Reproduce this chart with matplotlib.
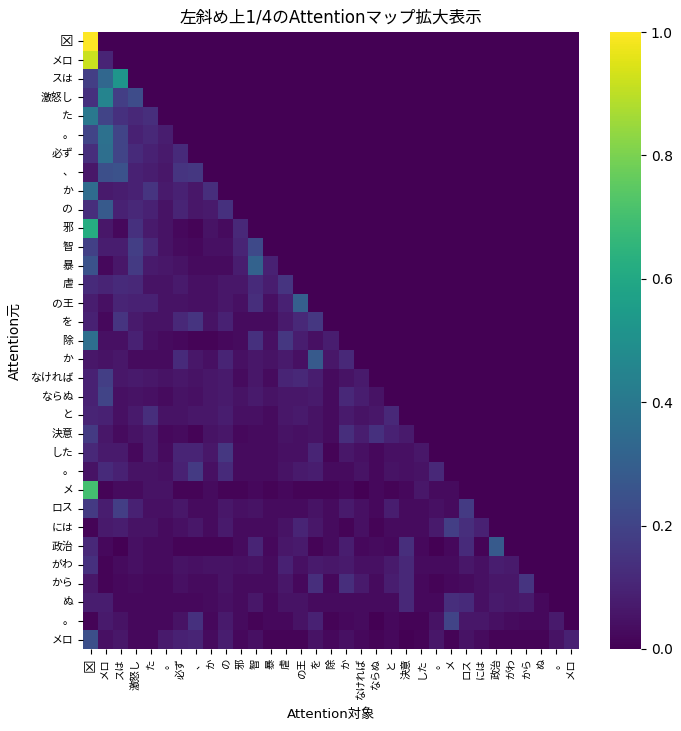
import numpy as np
import matplotlib
matplotlib.use("Agg")
import matplotlib.pyplot as plt
import seaborn as sns

plt.rcParams['font.family'] = ['DejaVu Sans', 'Noto Sans CJK JP']

tokens = ["☒", "メロ", "スは", "激怒し", "た", "。", "必ず", "、", "か", "の", "邪", "智", "暴", "虐",
          "の王", "を", "除", "か", "なければ", "ならぬ", "と", "決意", "した", "。", "メ", "ロス",
          "には", "政治", "がわ", "から", "ぬ", "。", "メロ"]

# attention weights in hundredths, lower triangle, one list per source token
attention_rows = [
    [100],
    [92, 10],
    [18, 33, 52],
    [14, 45, 18, 23],
    [40, 20, 14, 11, 13],
    [20, 37, 20, 9, 11, 8],
    [13, 36, 20, 12, 9, 7, 12],
    [6, 24, 25, 9, 8, 6, 15, 16],
    [35, 7, 8, 9, 15, 7, 9, 6, 13],
    [13, 28, 9, 11, 9, 5, 10, 6, 7, 14],
    [62, 6, 2, 14, 7, 5, 2, 1, 5, 3, 11],
    [19, 8, 8, 18, 11, 5, 3, 2, 4, 4, 10, 22],
    [25, 2, 6, 17, 7, 6, 5, 3, 3, 3, 8, 31, 9],
    [12, 10, 12, 11, 5, 5, 7, 4, 4, 6, 6, 12, 8, 15],
    [8, 4, 10, 9, 9, 5, 5, 4, 4, 6, 4, 13, 4, 9, 30],
    [9, 2, 15, 7, 5, 5, 11, 15, 5, 9, 3, 3, 3, 7, 11, 16],
    [36, 4, 4, 9, 4, 3, 2, 1, 1, 2, 3, 14, 4, 16, 8, 4, 8],
    [6, 5, 6, 3, 3, 3, 12, 6, 4, 10, 4, 6, 5, 7, 4, 28, 6, 11],
    [9, 18, 6, 7, 6, 5, 6, 5, 6, 7, 3, 6, 3, 10, 11, 8, 3, 5, 7],
    [9, 20, 4, 5, 4, 3, 5, 4, 6, 7, 5, 7, 5, 6, 6, 7, 3, 11, 8, 5],
    [10, 9, 4, 7, 13, 5, 5, 6, 6, 8, 4, 4, 3, 6, 7, 5, 3, 7, 5, 6, 11],
    [17, 6, 3, 5, 7, 2, 3, 1, 5, 6, 2, 3, 3, 5, 4, 5, 3, 13, 8, 14, 9, 7],
    [11, 7, 7, 2, 7, 3, 10, 10, 6, 16, 3, 3, 3, 4, 4, 10, 1, 6, 4, 2, 4, 4, 6],
    [5, 12, 9, 5, 5, 4, 9, 17, 4, 12, 3, 3, 3, 5, 7, 8, 3, 3, 5, 2, 5, 4, 5, 11],
    [70, 1, 3, 3, 5, 5, 1, 1, 3, 1, 1, 2, 1, 2, 1, 1, 1, 2, 0, 2, 1, 2, 6, 3, 3],
    [17, 8, 18, 9, 4, 4, 6, 3, 3, 6, 4, 5, 3, 3, 3, 5, 3, 7, 4, 2, 8, 3, 3, 4, 3, 17],
    [1, 7, 8, 5, 5, 3, 4, 6, 3, 7, 3, 3, 3, 5, 10, 6, 3, 1, 4, 1, 3, 3, 3, 7, 18, 13, 9],
    [11, 2, 0, 4, 3, 3, 1, 1, 1, 1, 3, 10, 2, 6, 7, 1, 3, 8, 2, 3, 2, 13, 2, 0, 2, 12, 1, 28],
    [14, 1, 3, 4, 3, 3, 5, 4, 5, 5, 4, 5, 3, 9, 4, 7, 6, 7, 4, 4, 7, 11, 3, 3, 3, 6, 4, 8, 7],
    [6, 1, 2, 3, 2, 2, 4, 3, 3, 5, 3, 3, 3, 6, 2, 13, 2, 13, 7, 3, 8, 11, 2, 1, 2, 3, 4, 6, 6, 15],
    [8, 8, 2, 2, 2, 2, 2, 2, 3, 4, 3, 6, 2, 5, 5, 3, 3, 3, 3, 3, 3, 11, 2, 2, 13, 12, 4, 7, 6, 7, 2],
    [1, 7, 5, 2, 2, 2, 5, 14, 2, 7, 3, 1, 2, 2, 5, 9, 1, 2, 3, 0, 2, 1, 1, 5, 20, 6, 6, 4, 3, 2, 2, 7],
    [24, 4, 6, 2, 2, 7, 9, 10, 3, 8, 2, 4, 1, 1, 1, 5, 2, 4, 2, 1, 2, 0, 1, 6, 1, 5, 3, 1, 1, 1, 1, 5, 9],
]

n = len(tokens)
attention = np.zeros((n, n))
for i, row in enumerate(attention_rows):
    attention[i, :len(row)] = np.array(row) / 100

W, H = 681, 731
fig = plt.figure(figsize=(W / 100, H / 100), dpi=100)
ax = fig.add_axes([83 / W, 1 - 649 / H, (579 - 83) / W, (649 - 32) / H])
cax = fig.add_axes([610 / W, 1 - 649 / H, (641 - 610) / W, (649 - 32) / H])

sns.heatmap(attention, cmap="viridis", vmin=0, vmax=1, ax=ax, cbar_ax=cax,
            xticklabels=tokens, yticklabels=tokens)

ax.set_title("左斜め上1/4のAttentionマップ拡大表示", fontsize=12, pad=6.5)
ax.set_xlabel("Attention対象", fontsize=9.5, labelpad=5.5)
ax.set_ylabel("Attention元", fontsize=10, labelpad=5.5)
ax.tick_params(axis='x', labelsize=7.5, labelrotation=90)
ax.tick_params(axis='y', labelsize=7.8, labelrotation=0)
ax.get_xticklabels()[0].set_fontsize(11)
ax.get_yticklabels()[0].set_fontsize(11)
cax.tick_params(labelsize=10)

fig.savefig("out.png", dpi=100)
